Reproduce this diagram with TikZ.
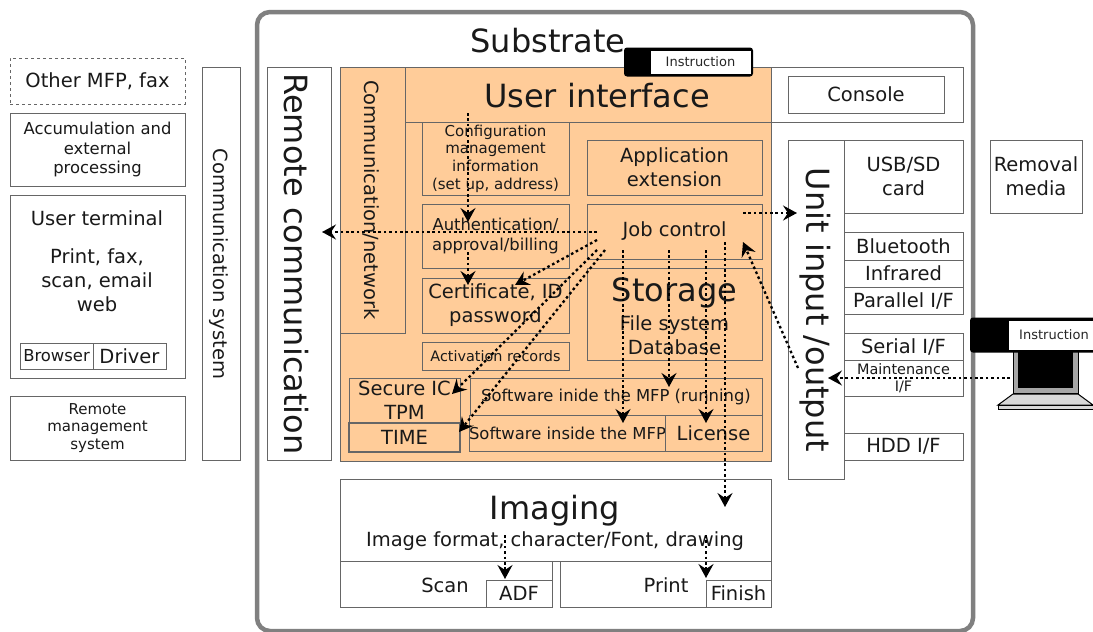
\documentclass[tikz,border=0pt]{standalone}
\usepackage{fontspec}
\setmainfont{DejaVu Sans}
\usetikzlibrary{arrows.meta}
\definecolor{mfporange}{HTML}{FFCC99}
\definecolor{mfpline}{HTML}{666666}

\begin{document}
\begin{tikzpicture}[x=1pt,y=-1pt]
\tikzstyle{bx}=[rectangle,draw=mfpline,line width=0.9pt,inner sep=0pt,align=center,text=black!90]
\tikzstyle{lbl}=[text=black!90,align=center]
\tikzstyle{f13}=[font=\fontsize{13}{16.5}\selectfont]
\tikzstyle{f14}=[font=\fontsize{14.4}{16.5}\selectfont]
\tikzstyle{f15}=[font=\fontsize{15}{17.7}\selectfont]
\tikzstyle{f16}=[font=\fontsize{16.4}{19.5}\selectfont]
\tikzstyle{f19}=[font=\fontsize{19.5}{24}\selectfont]
\tikzstyle{f32}=[font=\fontsize{32}{36}\selectfont]
\tikzstyle{flow}=[-{Stealth[length=14pt,width=15pt,inset=5pt]},line width=2.3pt,dash pattern=on 2.6pt off 2.8pt,black]
\useasboundingbox (0,0) rectangle (1093,632);

% substrate
\draw[draw=black!50,line width=4.5pt,rounded corners=13pt] (257,12) rectangle (973,631);
\node[f32,lbl](Sub) at (548,41) {Substrate};

% outside, left
\node[bx,f19,dashed,minimum width=175,minimum height=46](Other) at (97.5,81) {Other MFP, fax};
\node[bx,f16,minimum width=175,minimum height=73](Accu) at (97.5,149.5) {Accumulation and\\external\\processing};
\node[bx,minimum width=175,minimum height=183](Term) at (97.5,286.5) {};
\node[f19,lbl](TermT) at (97,218) {User terminal};
\node[f19,lbl](TermU) at (97,280) {Print, fax,\\scan, email\\web};
\node[bx,f16,minimum width=73,minimum height=26](Brow) at (56.5,356) {Browser};
\node[bx,f19,minimum width=73,minimum height=26](Driv) at (129.5,356) {Driver};
\node[bx,f15,minimum width=175,minimum height=64](Rem) at (97.5,428) {Remote\\management\\system};
\node[bx,minimum width=38,minimum height=393](Comm) at (221,263.5) {};
\node[f19,rotate=-90,lbl](CommT) at (219,264) {Communication system};
\node[bx,minimum width=64,minimum height=393](RC) at (299,263.5) {};
\node[f32,rotate=-90,lbl](RCT) at (296,264) {Remote communication};

% orange core
\node[bx,fill=mfporange,minimum width=431,minimum height=394](Core) at (555.5,264) {};
\node[bx,minimum width=65,minimum height=266](Net) at (372.5,200) {};
\node[f19,rotate=-90,lbl](NetT) at (371,200) {Communication/network};
\node[bx,minimum width=558,minimum height=55](UI) at (684,94.5) {};
\node[f32,lbl](UIT) at (597,96) {User interface};
\node[bx,f19,fill=white,minimum width=156,minimum height=37](Cons) at (866,94.5) {Console};
\node[bx,f15,minimum width=147,minimum height=73](Conf) at (495.5,158.5) {Configuration\\management\\information\\(set up, address)};
\node[bx,f16,minimum width=147,minimum height=64](Auth) at (495.5,236) {Authentication/\\approval/billing};
\node[bx,f19,minimum width=147,minimum height=55](Cert) at (495.5,305.5) {Certificate, ID\\password};
\node[bx,f14,minimum width=147,minimum height=28](Act) at (495.5,356) {Activation records};
\node[bx,f19,minimum width=175,minimum height=55](App) at (674.5,167.5) {Application\\extension};
\node[bx,f19,minimum width=175,minimum height=55](Job) at (674.5,231.5) {Job control};
\node[bx,minimum width=175,minimum height=92](Stor) at (674.5,314) {};
\node[f32,lbl](StorT) at (674.5,293) {Storage};
\node[f19,lbl](StorU) at (674.5,335) {File system\\Database};
\node[bx,f19,minimum width=111,minimum height=45](Sec) at (404.5,400.5) {Secure IC\\TPM};
\node[bx,f19,line width=1.3pt,minimum width=111,minimum height=29](Time) at (404.5,437.5) {TIME};
\node[bx,f16,minimum width=292,minimum height=37](Run) at (616,396.5) {Software inide the MFP (running)};
\node[bx,f16,minimum width=195,minimum height=36](Soft) at (567.5,433) {Software inside the MFP};
\node[bx,f19,minimum width=97,minimum height=36](Lic) at (713.5,433) {License};

% imaging
\node[bx,minimum width=431,minimum height=82](Img) at (555.5,520) {};
\node[f32,lbl](ImgT) at (555,511) {Imaging};
\node[f19,lbl](ImgU) at (555,541) {Image format, character/Font, drawing};
\node[bx,minimum width=212,minimum height=46](Scan) at (446,584) {};
\node[f19,lbl](ScanT) at (445,585) {Scan};
\node[bx,f19,minimum width=66,minimum height=27](ADF) at (519,593.5) {ADF};
\node[bx,minimum width=211,minimum height=46](Print) at (665.5,584) {};
\node[f19,lbl](PrintT) at (666,585) {Print};
\node[bx,f19,minimum width=65,minimum height=27](Fin) at (738.5,593.5) {Finish};

% unit input/output
\node[bx,minimum width=56,minimum height=339](Unit) at (816,309.5) {};
\node[f32,rotate=-90,lbl](UnitT) at (815,310) {Unit input /output};
\node[bx,f19,minimum width=119,minimum height=73](USB) at (903.5,176.5) {USB/SD\\card};
\node[bx,f19,minimum width=119,minimum height=28](Blue) at (903.5,246) {Bluetooth};
\node[bx,f19,minimum width=119,minimum height=27](Infra) at (903.5,273.5) {Infrared};
\node[bx,f19,minimum width=119,minimum height=27](Par) at (903.5,300.5) {Parallel I/F};
\node[bx,f19,minimum width=119,minimum height=27](Ser) at (903.5,346.5) {Serial I/F};
\node[bx,f14,minimum width=119,minimum height=36](Main) at (903.5,378) {Maintenance\\I/F};
\node[bx,f19,minimum width=119,minimum height=27](HDD) at (903.5,446.5) {HDD I/F};
\node[bx,f19,minimum width=92,minimum height=73](Media) at (1036,176.5) {Removal\\media};

% terminal on the right
\draw[draw=black,fill=black!35,line width=1pt] (1013,350) rectangle (1078,393);
\fill[black] (1018,350) rectangle (1073,388);
\draw[draw=black,fill=black!15,line width=1pt] (1013,394) -- (1078,394) -- (1093,405) -- (998,405) -- cycle;
\draw[draw=black,fill=black!15,line width=1pt] (998,405) rectangle (1094,409);

% instruction tags
\node[fill=black,rounded corners=3pt,minimum width=129,minimum height=29,inner sep=0pt](Tag) at (688.5,62) {};
\node[fill=white,f13,minimum width=100,minimum height=23,inner sep=0pt,text=black!85](TagT) at (700.5,62) {Instruction};
\node[fill=black,rounded corners=3pt,minimum width=130,minimum height=35,inner sep=0pt](Tag2) at (1035,335) {};
\node[fill=white,f13,minimum width=90,minimum height=29,inner sep=0pt,text=black!85](Tag2T) at (1054,335) {Instruction};

% flows
\coordinate (a1) at (468,113);
\coordinate (b1) at (468,222);
\coordinate (a2) at (468,252);
\coordinate (b2) at (468,285);
\coordinate (a3) at (597,232);
\coordinate (b3) at (322,232);
\coordinate (a4) at (597,240);
\coordinate (b4) at (515,285);
\coordinate (a5) at (597,250);
\coordinate (b5) at (452,394);
\coordinate (a6) at (605,250);
\coordinate (b6) at (459,432);
\coordinate (a7) at (623,250);
\coordinate (b7) at (623,423);
\coordinate (a8) at (669,250);
\coordinate (b8) at (669,387);
\coordinate (a9) at (706,250);
\coordinate (b9) at (706,423);
\coordinate (a10) at (725,242);
\coordinate (b10) at (725,507);
\coordinate (a11) at (743,213);
\coordinate (b11) at (797,213);
\coordinate (a12) at (798,368);
\coordinate (b12) at (743,242);
\coordinate (a13) at (1010,378);
\coordinate (b13) at (828,378);
\coordinate (a14) at (505,535);
\coordinate (b14) at (505,579);
\coordinate (a15) at (706,535);
\coordinate (b15) at (706,578);
\draw[flow] (a1) -- (b1);
\draw[flow] (a2) -- (b2);
\draw[flow] (a3) -- (b3);
\draw[flow] (a4) -- (b4);
\draw[flow] (a5) -- (b5);
\draw[flow] (a6) -- (b6);
\draw[flow] (a7) -- (b7);
\draw[flow] (a8) -- (b8);
\draw[flow] (a9) -- (b9);
\draw[flow] (a10) -- (b10);
\draw[flow] (a11) -- (b11);
\draw[flow] (a12) -- (b12);
\draw[flow] (a13) -- (b13);
\draw[flow] (a14) -- (b14);
\draw[flow] (a15) -- (b15);
\end{tikzpicture}
\end{document}
